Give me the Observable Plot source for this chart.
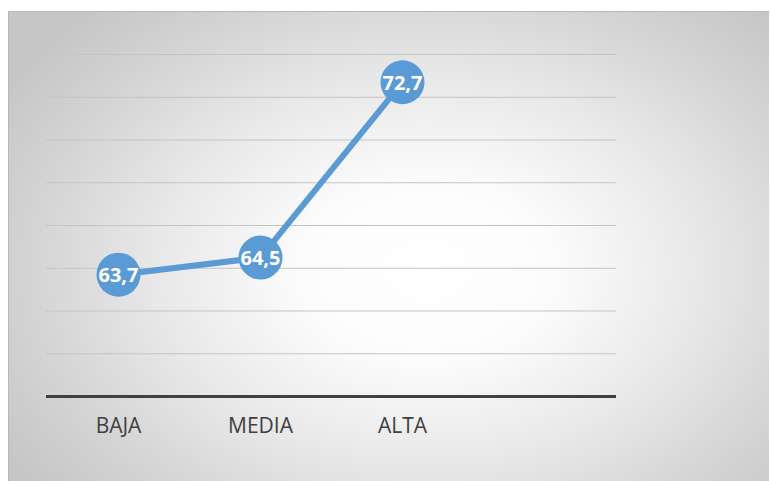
<!DOCTYPE html>
<html>
<head>
<meta charset="utf-8">
<script src="https://cdn.jsdelivr.net/npm/d3@7"></script>
<script src="https://cdn.jsdelivr.net/npm/@observablehq/plot@0.6"></script>
<style>
  html, body { margin: 0; padding: 0; background: #ffffff; }
  body { width: 770px; height: 481px; position: relative; overflow: hidden; }
  #frame {
    position: absolute; left: 8px; top: 11px; width: 760px; height: 470px;
    border-top: 1px solid #b8b8b8; border-left: 1px solid #b8b8b8;
    background: radial-gradient(ellipse 65% 75% at 55% 55%, #ffffff 0%, #fcfcfc 25%, #e8e8e8 55%, #d4d4d4 80%, #c6c6c6 100%);
  }
  #chart { position: absolute; left: 0; top: 0; }
</style>
</head>
<body>
<div id="frame"></div>
<div id="chart"></div>
<script>
const categories = ["BAJA", "MEDIA", "ALTA"];
const values = [63.7, 64.5, 72.7];
const gridTicks = [60, 62, 64, 66, 68, 70, 72, 74];
const yMin = 58;
const yMax = 74;

const data = categories.map((c, i) => ({cat: c, value: values[i]}));
const fmt = v => v.toFixed(1).replace(".", ",");

const chart = Plot.plot({
  width: 770,
  height: 481,
  marginLeft: 46,
  marginRight: 154,
  marginTop: 54,
  marginBottom: 85,
  style: {background: "transparent", fontFamily: "'Open Sans', sans-serif"},
  x: {type: "point", domain: [...categories, ""], padding: 0.5, axis: null},
  y: {domain: [yMin, yMax], axis: null},
  marks: [
    Plot.ruleY(gridTicks, {stroke: "#c4c4c4", strokeWidth: 1}),
    Plot.ruleY([yMin], {stroke: "#404040", strokeWidth: 3}),
    Plot.axisX(categories, {tickSize: 0, tickPadding: 22, fontSize: 21, fill: "#404040", label: null}),
    Plot.line(data, {x: "cat", y: "value", stroke: "#5b9bd5", strokeWidth: 6}),
    Plot.dot(data, {x: "cat", y: "value", r: 22, fill: "#5b9bd5", stroke: "none"}),
    Plot.text(data, {x: "cat", y: "value", text: d => fmt(d.value), fill: "white", fontSize: 20, fontWeight: "bold", dy: 1})
  ]
});
document.getElementById("chart").appendChild(chart);
</script>
</body>
</html>
